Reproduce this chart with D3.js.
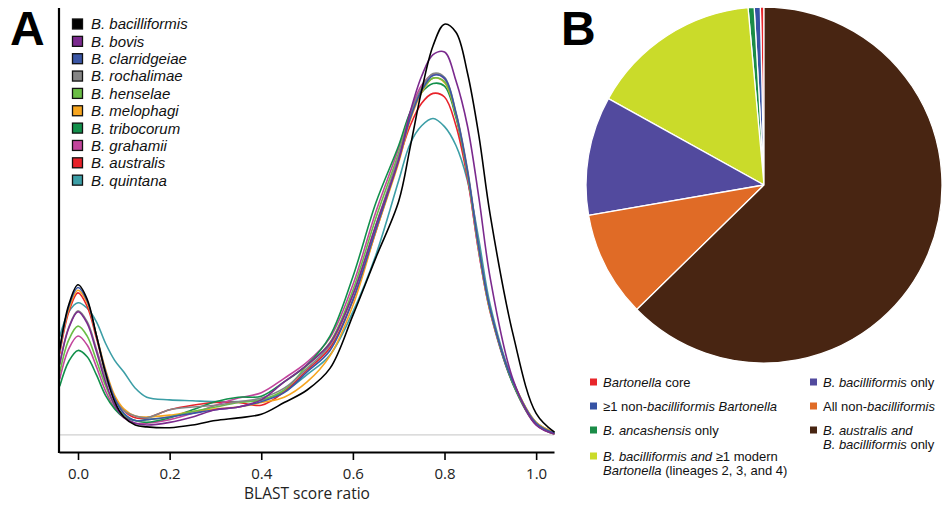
<!DOCTYPE html>
<html>
<head>
<meta charset="utf-8">
<script src="https://cdn.jsdelivr.net/npm/d3@7"></script>
<style>
  body { margin: 0; background: white; }
  svg { font-family: "Open Sans", sans-serif; }
</style>
</head>
<body>
<div id="chart"></div>
<script>
// ---- panel A data: density of BLAST score ratio per species ----
var scoreRatio = [-0.04, -0.02, 0, 0.02, 0.04, 0.06, 0.08, 0.1, 0.125, 0.15, 0.2, 0.25, 0.3, 0.35, 0.4, 0.45,
    0.5, 0.55, 0.6, 0.65, 0.7, 0.725, 0.75, 0.775, 0.8, 0.825, 0.85, 0.875, 0.9, 0.95, 1.0, 1.04];

var species = ['B. bacilliformis', 'B. bovis', 'B. clarridgeiae', 'B. rochalimae', 'B. henselae',
    'B. melophagi', 'B. tribocorum', 'B. grahamii', 'B. australis', 'B. quintana'];
var speciesColors = ['#000000', '#7b2a8e', '#3a56a5', '#858585', '#6abd45', '#f6a51f', '#12904b', '#c2459c', '#e8222a', '#3c9ea6'];

var bacilliformis = [0.95, 1.45, 1.67, 1.51, 1.11, 0.69, 0.37, 0.20, 0.11, 0.09, 0.08, 0.11, 0.16, 0.19, 0.23, 0.36, 0.50, 0.74, 1.33, 1.97, 2.60, 3.20, 3.83, 4.33, 4.57, 4.48, 4.03, 3.33, 2.44, 1.11, 0.24, 0.03];
var bovis = [0.78, 1.19, 1.37, 1.24, 0.93, 0.59, 0.33, 0.20, 0.13, 0.11, 0.14, 0.20, 0.28, 0.31, 0.39, 0.59, 0.78, 1.02, 1.56, 2.33, 3.06, 3.59, 3.99, 4.23, 4.26, 3.94, 3.44, 2.64, 1.74, 0.61, 0.11, 0.01];
var clarridgeiae = [0.93, 1.43, 1.64, 1.49, 1.11, 0.71, 0.41, 0.24, 0.16, 0.17, 0.20, 0.24, 0.28, 0.31, 0.37, 0.47, 0.70, 0.94, 1.50, 2.28, 3.06, 3.52, 3.83, 4.00, 3.97, 3.58, 2.94, 2.08, 1.39, 0.58, 0.13, 0.02];
var rochalimae = [0.79, 1.20, 1.38, 1.26, 0.96, 0.64, 0.40, 0.27, 0.21, 0.19, 0.28, 0.31, 0.33, 0.37, 0.41, 0.52, 0.74, 1.00, 1.56, 2.33, 3.11, 3.56, 3.86, 4.02, 3.98, 3.59, 2.96, 2.10, 1.40, 0.59, 0.13, 0.02];
var henselae = [0.69, 1.06, 1.21, 1.10, 0.83, 0.55, 0.33, 0.22, 0.16, 0.17, 0.20, 0.26, 0.31, 0.36, 0.39, 0.50, 0.77, 1.03, 1.61, 2.41, 3.14, 3.56, 3.83, 3.97, 3.93, 3.57, 2.92, 2.06, 1.38, 0.57, 0.12, 0.01];
var melophagi = [0.92, 1.40, 1.61, 1.47, 1.11, 0.73, 0.44, 0.29, 0.21, 0.20, 0.22, 0.26, 0.29, 0.31, 0.36, 0.42, 0.59, 0.88, 1.44, 2.26, 3.03, 3.50, 3.81, 3.97, 3.92, 3.56, 2.92, 2.06, 1.37, 0.59, 0.14, 0.03];
var tribocorum = [0.54, 0.82, 0.94, 0.87, 0.67, 0.44, 0.29, 0.20, 0.16, 0.14, 0.19, 0.28, 0.37, 0.42, 0.43, 0.59, 0.78, 1.10, 1.76, 2.58, 3.22, 3.59, 3.81, 3.91, 3.88, 3.53, 2.92, 2.08, 1.39, 0.56, 0.12, 0.02];
var grahamii = [0.62, 0.96, 1.10, 1.00, 0.76, 0.49, 0.30, 0.19, 0.13, 0.13, 0.17, 0.24, 0.33, 0.41, 0.47, 0.63, 0.81, 1.08, 1.67, 2.48, 3.19, 3.59, 3.89, 4.01, 3.96, 3.56, 2.89, 2.03, 1.36, 0.56, 0.11, 0.01];
var australis = [0.90, 1.37, 1.58, 1.43, 1.08, 0.70, 0.42, 0.27, 0.19, 0.19, 0.28, 0.33, 0.36, 0.36, 0.33, 0.48, 0.72, 0.97, 1.50, 2.26, 3.06, 3.44, 3.69, 3.80, 3.76, 3.44, 2.86, 2.03, 1.37, 0.57, 0.12, 0.01];
var quintana = [1.09, 1.37, 1.47, 1.41, 1.26, 1.02, 0.83, 0.70, 0.52, 0.42, 0.39, 0.38, 0.37, 0.37, 0.39, 0.48, 0.67, 0.89, 1.37, 2.00, 2.83, 3.24, 3.44, 3.52, 3.43, 3.22, 2.83, 2.17, 1.44, 0.59, 0.14, 0.03];

var densities = [bacilliformis, bovis, clarridgeiae, rochalimae, henselae, melophagi, tribocorum, grahamii, australis, quintana];
var xTicks = [0, 0.2, 0.4, 0.6, 0.8, 1.0];

// ---- panel B data: gene categories (% of genes) ----
var pieCategories = ['Bartonella core', '≥1 non-bacilliformis Bartonella', 'B. ancashensis only',
    'B. bacilliformis and ≥1 modern Bartonella', 'B. bacilliformis only', 'All non-bacilliformis',
    'B. australis and B. bacilliformis only'];
var pieValues = [0.33, 0.55, 0.55, 15.5, 10.8, 9.6, 62.67];
var pieColors = ['#e8262b', '#3653a4', '#1a8c47', '#cadb2a', '#524a9e', '#e06b26', '#482512'];

// legend text pieces per line: [text, italic]
var pieLegendText = [
    [[['Bartonella', true], [' core', false]]],
    [[['≥1 non-', false], ['bacilliformis Bartonella', true]]],
    [[['B. ancashensis', true], [' only', false]]],
    [[['B. bacilliformis and', true], [' ≥1 modern', false]], [['Bartonella', true], [' (lineages 2, 3, and 4)', false]]],
    [[['B. bacilliformis', true], [' only', false]]],
    [[['All non-', false], ['bacilliformis', true]]],
    [[['B. australis and', true]], [['B. bacilliformis', true], [' only', false]]]
];

var width = 950, height = 508;

var svg = d3.select("#chart")
    .append("svg")
    .attr("width", width)
    .attr("height", height);

svg.append("rect")
    .attr("width", "100%")
    .attr("height", "100%")
    .attr("fill", "white");

// ================= Panel A =================
var x = d3.scaleLinear()
    .domain([-0.0415, 1.039])
    .range([59, 554]);

var y = d3.scaleLinear()
    .domain([-0.19, 4.75])
    .range([452, 8]);

// zero-density reference line
svg.append("line")
    .attr("x1", x.range()[0]).attr("x2", x.range()[1])
    .attr("y1", y(0)).attr("y2", y(0))
    .attr("stroke", "#d0d0d0")
    .attr("stroke-width", 1.2);

var line = d3.line()
    .x(function(d) { return x(d[0]); })
    .y(function(d) { return y(d[1]); })
    .curve(d3.curveCatmullRom.alpha(0.5));

for (var i = densities.length - 1; i >= 0; i--) {
    var pts = scoreRatio.map(function(v, j) { return [v, densities[i][j]]; });
    svg.append("path")
        .datum(pts)
        .attr("d", line)
        .attr("fill", "none")
        .attr("stroke", speciesColors[i])
        .attr("stroke-width", 1.6);
}

// x axis
var xAxis = svg.append("g")
    .attr("transform", "translate(0," + y(-0.19) + ")")
    .call(d3.axisBottom(x).tickValues(xTicks).tickFormat(d3.format(".1f")).tickSize(8).tickSizeOuter(0));
xAxis.select(".domain").attr("stroke-width", 2.2);
xAxis.selectAll(".tick line").attr("stroke-width", 1.6);
xAxis.selectAll(".tick text")
    .attr("dy", "1.05em")
    .style("font-family", "Open Sans")
    .style("font-size", "15px")
    .attr("fill", "#222");

// y axis: plain line
svg.append("line")
    .attr("x1", 59).attr("x2", 59)
    .attr("y1", 8).attr("y2", y(-0.19) + 1)
    .attr("stroke", "black")
    .attr("stroke-width", 2.2);

svg.append("text")
    .attr("x", 307).attr("y", 499)
    .attr("text-anchor", "middle")
    .style("font-size", "15.5px")
    .attr("fill", "#222")
    .text("BLAST score ratio");

// legend A
var legA = svg.append("g").attr("transform", "translate(72,24)");
species.forEach(function(name, k) {
    var g = legA.append("g").attr("transform", "translate(0," + (k * 17.35) + ")");
    g.append("rect")
        .attr("x", 0.5).attr("y", -5)
        .attr("width", 10).attr("height", 10)
        .attr("fill", speciesColors[k])
        .attr("stroke", "#111")
        .attr("stroke-width", 1.3);
    g.append("text")
        .attr("x", 19).attr("y", 0)
        .attr("dy", "0.36em")
        .style("font-family", "Liberation Sans, Arial, sans-serif")
        .style("font-style", "italic")
        .style("font-size", "15px")
        .attr("fill", "#111")
        .text(name);
});

// panel letters
svg.append("text")
    .attr("x", 10).attr("y", 45)
    .style("font-family", "Liberation Sans, Arial, sans-serif")
    .style("font-weight", "bold")
    .style("font-size", "48px")
    .text("A");

svg.append("text")
    .attr("x", 561).attr("y", 45)
    .style("font-family", "Liberation Sans, Arial, sans-serif")
    .style("font-weight", "bold")
    .style("font-size", "48px")
    .text("B");

// ================= Panel B =================
var pie = d3.pie()
    .sort(null)
    .startAngle(0)
    .endAngle(-2 * Math.PI)
    .value(function(d) { return d; });

var arc = d3.arc()
    .innerRadius(0)
    .outerRadius(178);

svg.append("g")
    .attr("transform", "translate(764,185)")
    .selectAll("path")
    .data(pie(pieValues))
    .enter()
    .append("path")
    .attr("d", arc)
    .attr("fill", function(d, i) { return pieColors[i]; })
    .attr("stroke", "white")
    .attr("stroke-width", 1.3)
    .attr("stroke-linejoin", "round");

// legend B (one text element per line)
var legPos = [[590, 382], [590, 406], [590, 430], [590, 456], [810, 382], [810, 406], [810, 430]];
pieCategories.forEach(function(cat, k) {
    var g = svg.append("g").attr("transform", "translate(" + legPos[k][0] + "," + legPos[k][1] + ")");
    g.append("rect")
        .attr("x", 0).attr("y", -3.5)
        .attr("width", 7).attr("height", 7)
        .attr("fill", pieColors[k]);
    pieLegendText[k].forEach(function(lineParts, li) {
        var t = g.append("text")
            .attr("x", 13).attr("y", li * 14.6)
            .attr("dy", "0.35em")
            .style("font-family", "Liberation Sans, Arial, sans-serif")
            .style("font-size", "13px")
            .attr("fill", "#111");
        lineParts.forEach(function(p) {
            t.append("tspan")
                .style("font-style", p[1] ? "italic" : "normal")
                .text(p[0]);
        });
    });
});
</script>
</body>
</html>
